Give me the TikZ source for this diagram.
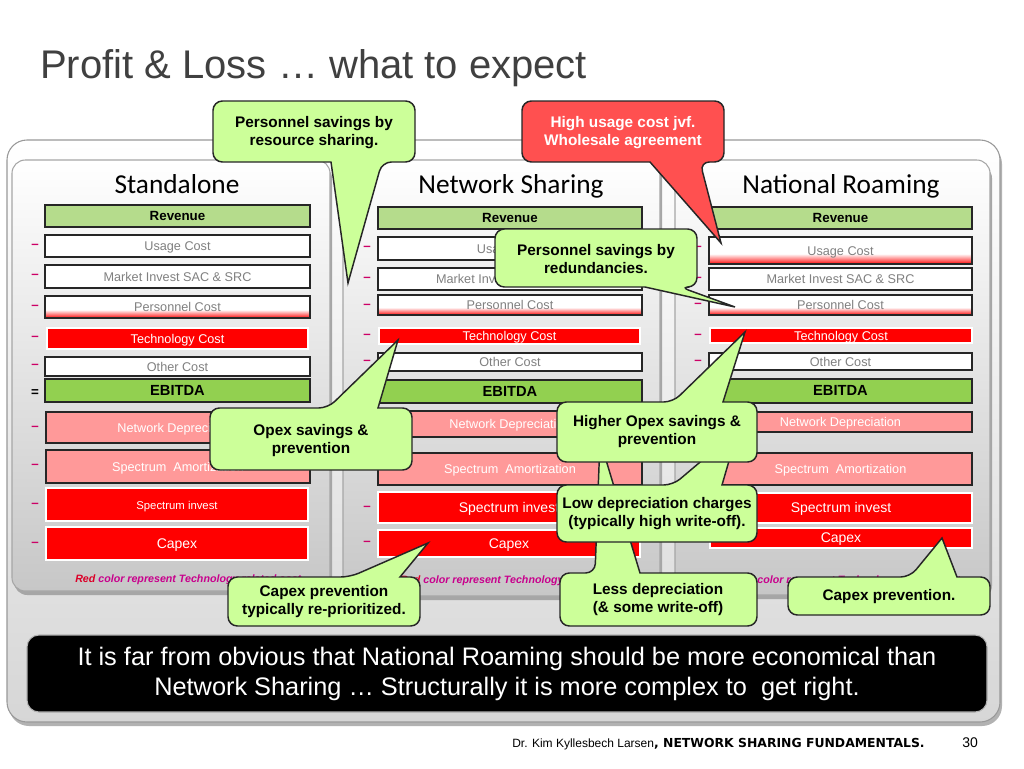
\documentclass[tikz,border=0pt]{standalone}
\usepackage{fontspec}
\setmainfont{Liberation Sans}
\newfontfamily\calib{Carlito}
\newfontfamily\comicf{DejaVu Sans}
\definecolor{revg}{RGB}{181,220,140}
\definecolor{ebg}{RGB}{146,208,80}
\definecolor{pinkr}{RGB}{255,153,153}
\definecolor{callg}{RGB}{204,255,153}
\definecolor{callr}{RGB}{255,80,80}
\definecolor{minusc}{RGB}{204,0,102}
\definecolor{titlec}{RGB}{64,64,64}
\definecolor{rowtxt}{RGB}{128,128,128}
\definecolor{magc}{RGB}{200,0,140}
\definecolor{redtx}{RGB}{220,0,40}
\pgfdeclareverticalshading{wred}{100bp}{color(0bp)=(red); color(25bp)=(red); color(31bp)=(red!65!white); color(44bp)=(white); color(100bp)=(white)}
\tikzset{
 rowbox/.style={draw=black!85, line width=1.2pt},
 rg/.style={rowbox, fill=revg},
 re/.style={rowbox, fill=ebg},
 rw/.style={rowbox, fill=white},
 rp/.style={rowbox, fill=pinkr},
 rr/.style={fill=red, draw=white, line width=1.2pt},
 rs/.style={rowbox, shade, shading=wred},
 tb/.style={font=\bfseries\fontsize{10}{12}\selectfont, text=black, inner sep=0pt, text height=0.72em, text depth=0pt},
 tbe/.style={font=\bfseries\fontsize{11}{13}\selectfont, text=black, inner sep=0pt, text height=0.72em, text depth=0pt},
 tg/.style={font=\fontsize{9.5}{11}\selectfont, text=rowtxt, inner sep=0pt, text height=0.72em, text depth=0pt},
 tw/.style={font=\fontsize{9.5}{11}\selectfont, text=white, inner sep=0pt, text height=0.72em, text depth=0pt},
 tws/.style={font=\fontsize{8.5}{10}\selectfont, text=white, inner sep=0pt, text height=0.72em, text depth=0pt},
 twl/.style={font=\fontsize{10.5}{12}\selectfont, text=white, inner sep=0pt, text height=0.72em, text depth=0pt},
 mn/.style={text=minusc, font=\bfseries\fontsize{10}{12}\selectfont, inner sep=0pt},
 eqs/.style={text=black, font=\bfseries\fontsize{10}{12}\selectfont, inner sep=0pt},
 callbox/.style={fill=callg, draw=black!85, line width=1.1pt},
 callred/.style={fill=callr, draw=black!85, line width=1.1pt},
 calltxt/.style={font=\bfseries\fontsize{11.5}{13.5}\selectfont, align=center, inner sep=0pt},
 panel/.style={draw=black!35, line width=0.8pt, top color=white, bottom color=black!22, rounded corners=10pt},
 pshadow/.style={fill=black!35, rounded corners=10pt},
 coltitle/.style={font=\calib\fontsize{20.5}{24}\selectfont, inner sep=0pt, anchor=base},
 redline/.style={font=\bfseries\itshape\fontsize{8}{10}\selectfont, text=magc, inner sep=0pt, anchor=base west},
}
\newcommand\prow[8]{\path[#6] (#2,#3) rectangle (#4,#5); \node[#7] (#1) at ({(#2+#4)/2},{(#3+#5)/2}) {#8};}
\newcommand\calltop[9]{\path[#9] (#7,#8) -- (#6,#2) [rounded corners=7pt] -- (#3,#2) -- (#3,#4) -- (#1,#4) -- (#1,#2) -- (#5,#2) [sharp corners] -- cycle;}
\newcommand\callbot[9]{\path[#9] (#7,#8) -- (#5,#4) [rounded corners=7pt] -- (#1,#4) -- (#1,#2) -- (#3,#2) -- (#3,#4) -- (#6,#4) [sharp corners] -- cycle;}
\begin{document}
\begin{tikzpicture}[x=0.75pt,y=-0.75pt]
\fill[white] (0,0) rectangle (1024,768);
\useasboundingbox (0,0) rectangle (1024,768);
% title
\node[anchor=base west, inner sep=0pt, text=titlec, font=\fontsize{30}{34}\selectfont] (title) at (40,78) {Profit \& Loss … what to expect};
% outer box
\fill[black!30, rounded corners=15pt] (9,144) rectangle (1002,726);
\path[draw=black!40, line width=0.8pt, top color=white, bottom color=black!16, rounded corners=15pt] (7,140) rectangle (1000,722);
% panels
\fill[pshadow] (14,165) rectangle (332,595);
\path[panel] (12,160) rectangle (330,591);
\fill[pshadow] (345,165) rectangle (662,600);
\path[panel] (343,160) rectangle (660,596);
\fill[pshadow] (677,165) rectangle (992,599);
\path[panel] (675,160) rectangle (990,595);
% column titles
\node[coltitle] (tS) at (177,193) {Standalone};
\node[coltitle] (tN) at (511,193) {Network Sharing};
\node[coltitle] (tR) at (841,193) {National Roaming};
% panel 1 rows
\prow{sRev}{45}{205}{310}{227}{rg}{tb}{Revenue}
\prow{sUse}{45}{235}{310}{257}{rw}{tg}{Usage Cost}
\prow{sMkt}{45}{265}{310}{288}{rw}{tg}{Market Invest SAC \& SRC}
\prow{sPer}{45}{296}{310}{318}{rs}{tg}{Personnel Cost}
\prow{sTec}{47}{328}{308}{349}{rr}{tw}{Technology Cost}
\prow{sOth}{45}{357}{310}{376}{rw}{tg}{Other Cost}
\prow{sEbi}{45}{379}{310}{402}{re}{tbe}{EBITDA}
\prow{sNet}{46}{412}{310}{443}{rp}{tw}{Network Depreciation}
\prow{sAmo}{46}{450}{310}{483}{rp}{tw}{Spectrum\ \ Amortization}
\prow{sInv}{46}{488}{308}{521}{rr}{tws}{Spectrum invest}
\prow{sCap}{46}{527}{308}{560}{rr}{twl}{Capex}
\foreach \yy/\nm in {246/a,276/b,307/c,338/d,366/e,428/f,466/g,505/h,544/i} \node[mn] (sm\nm) at (35,\yy) {–};
\node[eqs] (seq) at (35,393) {=};
\node[redline] (sRed) at (75,582) {{\color{redtx}Red} color represent Technology related cost};
% panel 2 rows
\prow{nRev}{378}{207}{642}{229}{rg}{tb}{Revenue}
\prow{nUse}{378}{237}{642}{260}{rw}{tg}{Usage Cost}
\prow{nMkt}{378}{268}{642}{290}{rw}{tg}{Market Invest SAC \& SRC}
\prow{nPer}{378}{295}{642}{315}{rs}{tg}{Personnel Cost}
\prow{nTec}{379}{328}{640}{344}{rr}{tw}{Technology Cost}
\prow{nOth}{378}{353}{642}{371}{rw}{tg}{Other Cost}
\prow{nEbi}{378}{380}{642}{403}{re}{tbe}{EBITDA}
\prow{nNet}{378}{411}{642}{437}{rp}{tw}{Network Depreciation}
\prow{nAmo}{378}{453}{642}{485}{rp}{tw}{Spectrum\ \ Amortization}
\prow{nInv}{378}{492}{640}{523}{rr}{twl}{Spectrum invest}
\prow{nCap}{378}{530}{640}{557}{rr}{twl}{Capex}
\foreach \yy/\nm in {248/a,279/b,306/c,336/d,362/e,508/h,543/i} \node[mn] (nm\nm) at (367,\yy) {–};
\node[redline] (nRed) at (400,583) {{\color{redtx}Red} color represent Technology related cost};
% panel 3 rows
\prow{rRev}{709}{207}{972}{229}{rg}{tb}{Revenue}
\prow{rUse}{709}{237}{972}{264}{rs}{tg}{Usage Cost}
\prow{rMkt}{709}{268}{972}{290}{rw}{tg}{Market Invest SAC \& SRC}
\prow{rPer}{709}{295}{972}{315}{rs}{tg}{Personnel Cost}
\prow{rTec}{710}{328}{972}{343}{rr}{tw}{Technology Cost}
\prow{rOth}{709}{353}{972}{370}{rw}{tg}{Other Cost}
\prow{rEbi}{709}{379}{972}{403}{re}{tbe}{EBITDA}
\prow{rNet}{709}{412}{972}{432}{rp}{tw}{Network Depreciation}
\prow{rAmo}{709}{453}{972}{485}{rp}{tw}{Spectrum\ \ Amortization}
\prow{rInv}{710}{493}{972}{523}{rr}{twl}{Spectrum invest}
\prow{rCap}{710}{528}{972}{548}{rr}{twl}{Capex}
\foreach \yy/\nm in {248/a,279/b,305/c,336/d,362/e} \node[mn] (rm\nm) at (698,\yy) {–};
\node[redline] (rRed) at (734,583) {{\color{redtx}Red} color represent Technology related cost};
% callouts
\callbot{213}{101}{415}{162}{331}{382}{348}{283}{callbox}
\node[calltxt] (c1) at (314,133) {Personnel savings by\\resource sharing.};
\callbot{522}{101}{724}{162}{650}{700}{721}{243}{callred}
\node[calltxt, text=white] (c2) at (623,133) {High usage cost jvf.\\Wholesale agreement};
\callbot{495}{229}{697}{287}{645}{680}{735}{307}{callbox}
\node[calltxt] (c3) at (596,259) {Personnel savings by\\redundancies.};
\calltop{210}{408}{412}{470}{328}{378}{398}{340}{callbox}
\node[calltxt] (c4) at (311,441) {Opex savings \&\\prevention};
\calltop{228}{577}{420}{626}{350}{400}{428}{543}{callbox}
\node[calltxt] (c8) at (324,602) {Capex prevention\\typically re-prioritized.};
\calltop{560}{573}{757}{626}{595}{640}{600}{440}{callbox}
\node[calltxt] (c7) at (658,600) {Less depreciation\\(\& some write-off)};
\calltop{557}{485}{757}{542}{673}{722}{738}{430}{callbox}
\node[calltxt] (c6) at (657,514) {Low depreciation charges\\(typically high write-off).};
\calltop{557}{402}{757}{462}{673}{723}{745}{332}{callbox}
\node[calltxt] (c5) at (657,432) {Higher Opex savings \&\\prevention};
\calltop{788}{577}{990}{615}{910}{957}{942}{538}{callbox}
\node[calltxt] (c9) at (889,597) {Capex prevention.};
% black box
\path[fill=black, draw=black!30, line width=0.8pt, rounded corners=9pt] (27,635) rectangle (987,712);
\node[text=white, align=center, inner sep=0pt, font=\fontsize{19}{22.5}\selectfont] (msg) at (507,674) {It is far from obvious that National Roaming should be more economical than\\Network Sharing … Structurally it is more complex to\ \ get right.};
% footer
\node[anchor=base west, inner sep=0pt, font=\fontsize{9}{11}\selectfont] (foot) at (512,747) {Dr. Kim Kyllesbech Larsen{\comicf\bfseries\fontsize{9.3}{11}\selectfont, NETWORK SHARING FUNDAMENTALS.}};
\node[anchor=base west, inner sep=0pt, font=\fontsize{10.5}{12}\selectfont] (pg) at (962,747) {30};
\end{tikzpicture}
\end{document}
